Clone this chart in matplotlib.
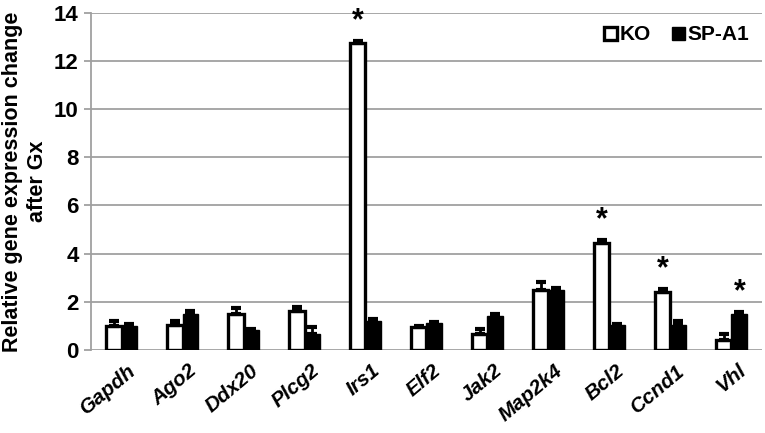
import numpy as np
import matplotlib
matplotlib.use('Agg')
import matplotlib.pyplot as plt

plt.rcParams['font.family'] = ['Liberation Sans', 'DejaVu Sans']

# dados
genes = ['Gapdh', 'Ago2', 'Ddx20', 'Plcg2', 'Irs1', 'Elf2', 'Jak2', 'Map2k4', 'Bcl2', 'Ccnd1', 'Vhl']
ko = [1.0, 1.02, 1.5, 1.6, 12.75, 0.93, 0.67, 2.5, 4.43, 2.4, 0.42]
ko_err = [0.18, 0.17, 0.23, 0.17, 0.1, 0.05, 0.2, 0.3, 0.12, 0.12, 0.22]
spa1 = [1.0, 1.5, 0.82, 0.67, 1.22, 1.1, 1.42, 2.48, 1.03, 1.03, 1.47]
spa1_err = [0.06, 0.1, 0.06, 0.3, 0.07, 0.07, 0.08, 0.08, 0.04, 0.18, 0.1]
asterisco_ko = ['Irs1', 'Bcl2', 'Ccnd1']
asterisco_spa1 = ['Vhl']

fig, ax = plt.subplots(figsize=(7.65, 4.33), dpi=100)
fig.subplots_adjust(left=0.119, right=0.996, bottom=0.192, top=0.970)

x = np.arange(len(genes))
w = 0.26

ax.bar(x - w / 2, ko, w, color='white', edgecolor='black', linewidth=2.4,
       yerr=[np.zeros(len(ko)), ko_err], capsize=3.5,
       error_kw=dict(ecolor='black', elinewidth=2, capthick=3), label='KO', zorder=3)
ax.bar(x + w / 2, spa1, w, color='black', edgecolor='black', linewidth=1,
       yerr=[np.zeros(len(spa1)), spa1_err], capsize=3.5,
       error_kw=dict(ecolor='black', elinewidth=2, capthick=3), label='SP-A1', zorder=3)

for i, g in enumerate(genes):
    if g in asterisco_ko:
        ax.text(i - w / 2, ko[i] + ko_err[i] + 0.2, '*', ha='center', va='bottom',
                fontsize=22, fontweight='bold')
    if g in asterisco_spa1:
        ax.text(i + w / 2, spa1[i] + spa1_err[i] + 0.2, '*', ha='center', va='bottom',
                fontsize=22, fontweight='bold')

ax.set_xlim(-0.5, len(genes) - 0.5)
ax.set_ylim(0, 14)
ax.set_yticks(np.arange(0, 15, 2))
ax.yaxis.grid(True, color='#a0a0a0', linewidth=1.3, zorder=0)
ax.set_axisbelow(True)

for s in ['top', 'right', 'bottom']:
    ax.spines[s].set_visible(False)
ax.spines['left'].set_color('#a0a0a0')
ax.spines['left'].set_linewidth(1.3)
ax.tick_params(axis='y', colors='#a0a0a0', length=5, width=1.3, labelcolor='black',
               labelsize=16, pad=4)
for t in ax.get_yticklabels():
    t.set_fontweight('bold')

ax.set_xticks(x + 0.1)
ax.set_xticklabels(genes, rotation=40, ha='right', rotation_mode='anchor',
                   fontsize=15, fontweight='bold', fontstyle='italic')
ax.tick_params(axis='x', length=0, pad=8)

ax.set_ylabel('Relative gene expression change\nafter Gx', fontsize=15.5,
              fontweight='bold', labelpad=4, linespacing=1.25)

leg = ax.legend(loc='upper right', frameon=False, ncol=2, fontsize=15,
                handlelength=0.6, handleheight=0.6, handletextpad=0.15,
                columnspacing=1.0, borderaxespad=0.2)
for t in leg.get_texts():
    t.set_fontweight('bold')

fig.savefig('out.png', dpi=100)
